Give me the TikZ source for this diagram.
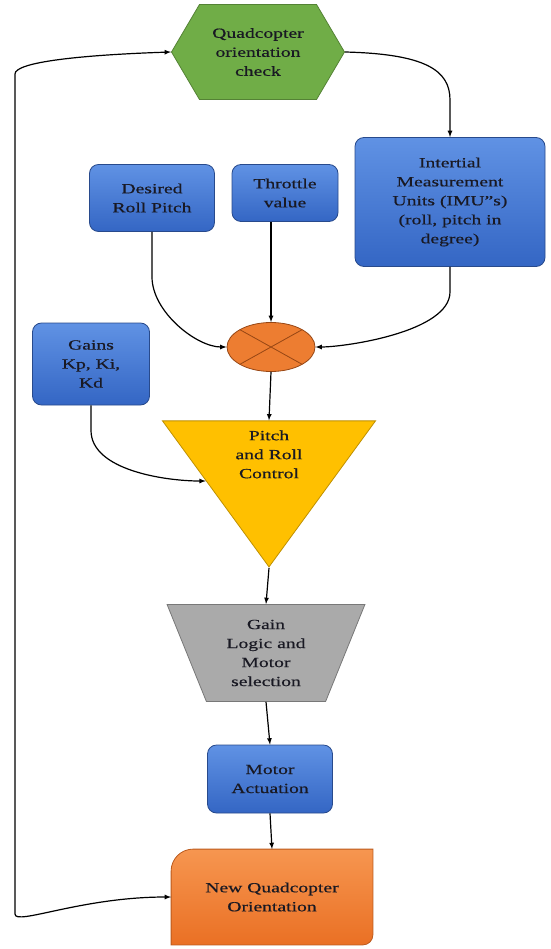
\documentclass[tikz,border=0pt]{standalone}
\usepackage{fontspec}
\setmainfont[FakeStretch=1.4,FakeBold=0.5]{Liberation Serif}
\usetikzlibrary{shapes.geometric,shapes.symbols,backgrounds}

\definecolor{hexfill}{RGB}{112,173,71}
\definecolor{hexline}{RGB}{84,130,53}
\definecolor{bluetop}{RGB}{96,146,228}
\definecolor{bluebot}{RGB}{52,102,196}
\definecolor{blueline}{RGB}{40,74,140}
\definecolor{mixfill}{RGB}{237,125,49}
\definecolor{mixline}{RGB}{150,70,20}
\definecolor{prcfill}{RGB}{255,192,0}
\definecolor{prcline}{RGB}{191,144,0}
\definecolor{glmfill}{RGB}{170,170,170}
\definecolor{glmline}{RGB}{120,120,120}
\definecolor{nqotop}{RGB}{246,150,80}
\definecolor{nqobot}{RGB}{234,112,36}
\definecolor{textdark}{RGB}{25,25,35}

\begin{document}
\begin{tikzpicture}
  [x=1pt,y=-1pt,>=latex,line width=1.2pt,
   every node/.style={align=center,text=textdark,inner sep=2pt,line width=0.8pt,
     font=\fontsize{14}{19}\selectfont},
   block/.style={rectangle,rounded corners=9pt,draw=blueline,
     top color=bluetop,bottom color=bluebot}]
  \tikzstyle{arr} = [->]
  \useasboundingbox (0,0) rectangle (550,949);

  \node (qoc) at (258,52) [signal,signal to=west and east,signal pointer angle=119,
    minimum width=173pt,minimum height=95pt,inner sep=0pt,
    fill=hexfill,draw=hexline] {Quadcopter\\orientation\\check};
  \node (imu) at (450,202) [block,minimum width=190pt,minimum height=129pt]
    {Intertial\\Measurement\\Units (IMU"s)\\(roll, pitch in\\degree)};
  \node (drp) at (152,198) [block,minimum width=125pt,minimum height=67pt]
    {Desired\\Roll Pitch};
  \node (thr) at (285,193) [block,minimum width=106pt,minimum height=57pt]
    {Throttle\\value};
  \node (mix) at (271,347) [ellipse,minimum width=88pt,minimum height=49pt,
    fill=mixfill,draw=mixline,
    path picture={\draw[mixline,line width=0.8pt]
      (path picture bounding box.north west) -- (path picture bounding box.south east)
      (path picture bounding box.south west) -- (path picture bounding box.north east);}] {};
  \node (gain) at (91,364) [block,minimum width=117pt,minimum height=82pt]
    {Gains\\Kp, Ki,\\Kd};
  \node (prc) at (269,458) [isosceles triangle,shape border rotate=-90,
    isosceles triangle stretches,minimum width=213pt,minimum height=146pt,
    inner sep=0pt,align=none,fill=prcfill,draw=prcline]
    {\raisebox{-1pt}[0pt][0pt]{\begin{tabular}{@{}c@{}}Pitch\\and Roll\\Control\end{tabular}}};
  \node (glm) at (266,653) [trapezium,shape border rotate=180,trapezium stretches=true,
    trapezium left angle=68.6,trapezium right angle=68.6,
    minimum width=198pt,minimum height=97pt,inner sep=0pt,
    fill=glmfill,draw=glmline] {Gain\\Logic and\\Motor\\selection};
  \node (mot) at (270,779) [block,minimum width=125pt,minimum height=68pt]
    {Motor\\Actuation};
  \node (nqo) at (272,897) [minimum width=201pt,minimum height=95pt]
    {New Quadcopter\\Orientation};
  \begin{scope}[on background layer]
    \path[top color=nqotop,bottom color=nqobot,draw=nqobot!80!black,line width=0.8pt]
      (nqo.west) [rounded corners=22pt] -- (nqo.north west) -- (nqo.north)
      [sharp corners] -- (nqo.north east) -- (nqo.east)
      [rounded corners=10pt] -- (nqo.south east) -- (nqo.south)
      [sharp corners] -- (nqo.south west) -- cycle;
  \end{scope}

  \coordinate (imubend) at (450,100);
  \coordinate (fbtop) at (15,74);
  \coordinate (fbbot) at (15,914);

  \draw[arr] (qoc.east) .. controls +(80,2) and +(0,-30) .. (imubend) -- (imu.north);
  \draw[arr] (drp.south) -- ++(0,45) .. controls +(0,35) and +(-30,0) .. (mix.west);
  \draw[arr] (thr.south -| mix.north) -- (mix.north);
  \draw[arr] (imu.south) -- ++(0,25) .. controls +(0,40) and +(30,0) .. (mix.east);
  \draw[arr] (gain.south) -- ++(0,25) .. controls +(0,40) and +(-40,0) .. (prc.200);
  \foreach \source/\dest in {mix.south/prc.north,prc.apex/glm.north,
      glm.south/mot.north,mot.south/nqo.north}
    \draw[arr] (\source) -- (\dest);
  \draw[<->] (qoc.west) .. controls +(-90,3) and +(0,-12) .. (fbtop) -- (fbbot)
    .. controls +(0,12) and +(-90,0) .. (nqo.west);
\end{tikzpicture}
\end{document}
